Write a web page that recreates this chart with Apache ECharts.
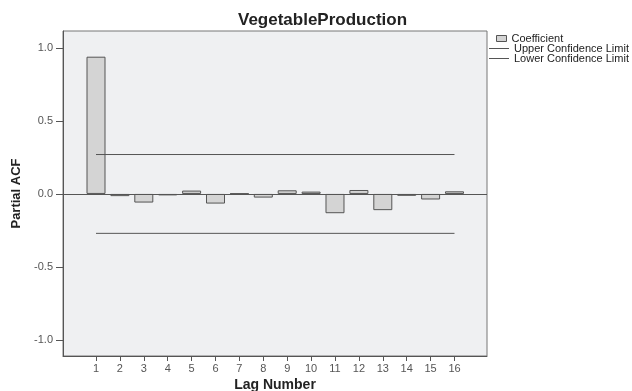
<!DOCTYPE html>
<html>
<head>
<meta charset="utf-8">
<script src="https://cdn.jsdelivr.net/npm/echarts@6/dist/echarts.min.js"></script>
<style>
html,body{margin:0;padding:0;background:#fff;}
#chart{width:632px;height:391px;}
</style>
</head>
<body>
<div id="chart"></div>
<script>
const lags = [1,2,3,4,5,6,7,8,9,10,11,12,13,14,15,16];
const coefficients = [0.94,-0.015,-0.059,-0.01,0.023,-0.066,0.003,-0.025,0.025,0.016,-0.132,0.027,-0.111,-0.013,-0.038,0.018];
const upperLimit = 0.27;
const lowerLimit = -0.27;
const yTicks = [-1,-0.5,0,0.5,1];
const titleText = 'VegetableProduction';

const FONT = 'Liberation Sans, Arial, sans-serif';
const chart = echarts.init(document.getElementById('chart'), null, {renderer:'canvas'});
chart.setOption({
  animation:false,
  backgroundColor:'#ffffff',
  title:{text:titleText,left:233,top:7,textStyle:{fontFamily:FONT,fontSize:17,fontWeight:'bold',color:'#222'}},
  legend:[
    {data:[{name:'Coefficient',icon:'rect',itemStyle:{borderWidth:1,borderColor:'#555',color:'#d4d4d4'}}],orient:'vertical',left:496,top:33,padding:0,itemWidth:10,itemHeight:6,itemGap:0,
     textStyle:{fontFamily:FONT,fontSize:11,color:'#222'}},
    {data:[{name:'Upper Confidence Limit',icon:'rect'},{name:'Lower Confidence Limit',icon:'rect'}],orient:'vertical',left:489,top:43,padding:0,itemWidth:20,itemHeight:1,itemGap:-1,
     textStyle:{fontFamily:FONT,fontSize:11,color:'#222'}}
  ],
  grid:{left:63,top:31,right:145,bottom:35,outerBoundsMode:'none',containLabel:false,show:true,backgroundColor:'#eff0f2',borderColor:'#777',borderWidth:1},
  xAxis:{type:'value',min:-0.381,max:17.36,
    name:'Lag Number',nameLocation:'middle',nameGap:22,nameMoveOverlap:false,
    nameTextStyle:{fontFamily:FONT,fontSize:14,fontWeight:'bold',color:'#222'},
    axisLine:{show:true,onZero:false,lineStyle:{color:'#555'}},
    axisTick:{show:true,length:5,customValues:lags,lineStyle:{color:'#555'}},
    axisLabel:{customValues:lags,fontFamily:FONT,fontSize:11,color:'#555',margin:7},
    splitLine:{show:false}},
  yAxis:{type:'value',min:-1.11,max:1.116,
    name:'Partial ACF',nameLocation:'middle',nameRotate:90,nameGap:40,nameMoveOverlap:false,
    nameTextStyle:{fontFamily:FONT,fontSize:13,fontWeight:'bold',color:'#222'},
    axisLine:{show:true,onZero:false,lineStyle:{color:'#555'}},
    axisTick:{show:true,length:7,customValues:yTicks,lineStyle:{color:'#555'}},
    axisLabel:{customValues:yTicks,fontFamily:FONT,fontSize:11,color:'#555',margin:10,formatter:v=>v.toFixed(1)},
    splitLine:{show:false}},
  series:[
    {name:'Coefficient',type:'bar',barWidth:19,
     data:lags.map((l,i)=>[l,coefficients[i]]),
     itemStyle:{color:'#d4d4d4',borderColor:'#555',borderWidth:1},
     markLine:{silent:true,symbol:'none',label:{show:false},lineStyle:{color:'#555',type:'solid',width:1},data:[{yAxis:0}]}},
    {name:'Upper Confidence Limit',type:'line',symbol:'none',
     data:[[lags[0],upperLimit],[lags[lags.length-1],upperLimit]],
     itemStyle:{color:'#555'},lineStyle:{color:'#555',width:1}},
    {name:'Lower Confidence Limit',type:'line',symbol:'none',
     data:[[lags[0],lowerLimit],[lags[lags.length-1],lowerLimit]],
     itemStyle:{color:'#555'},lineStyle:{color:'#555',width:1}}
  ]
});
</script>
</body>
</html>
